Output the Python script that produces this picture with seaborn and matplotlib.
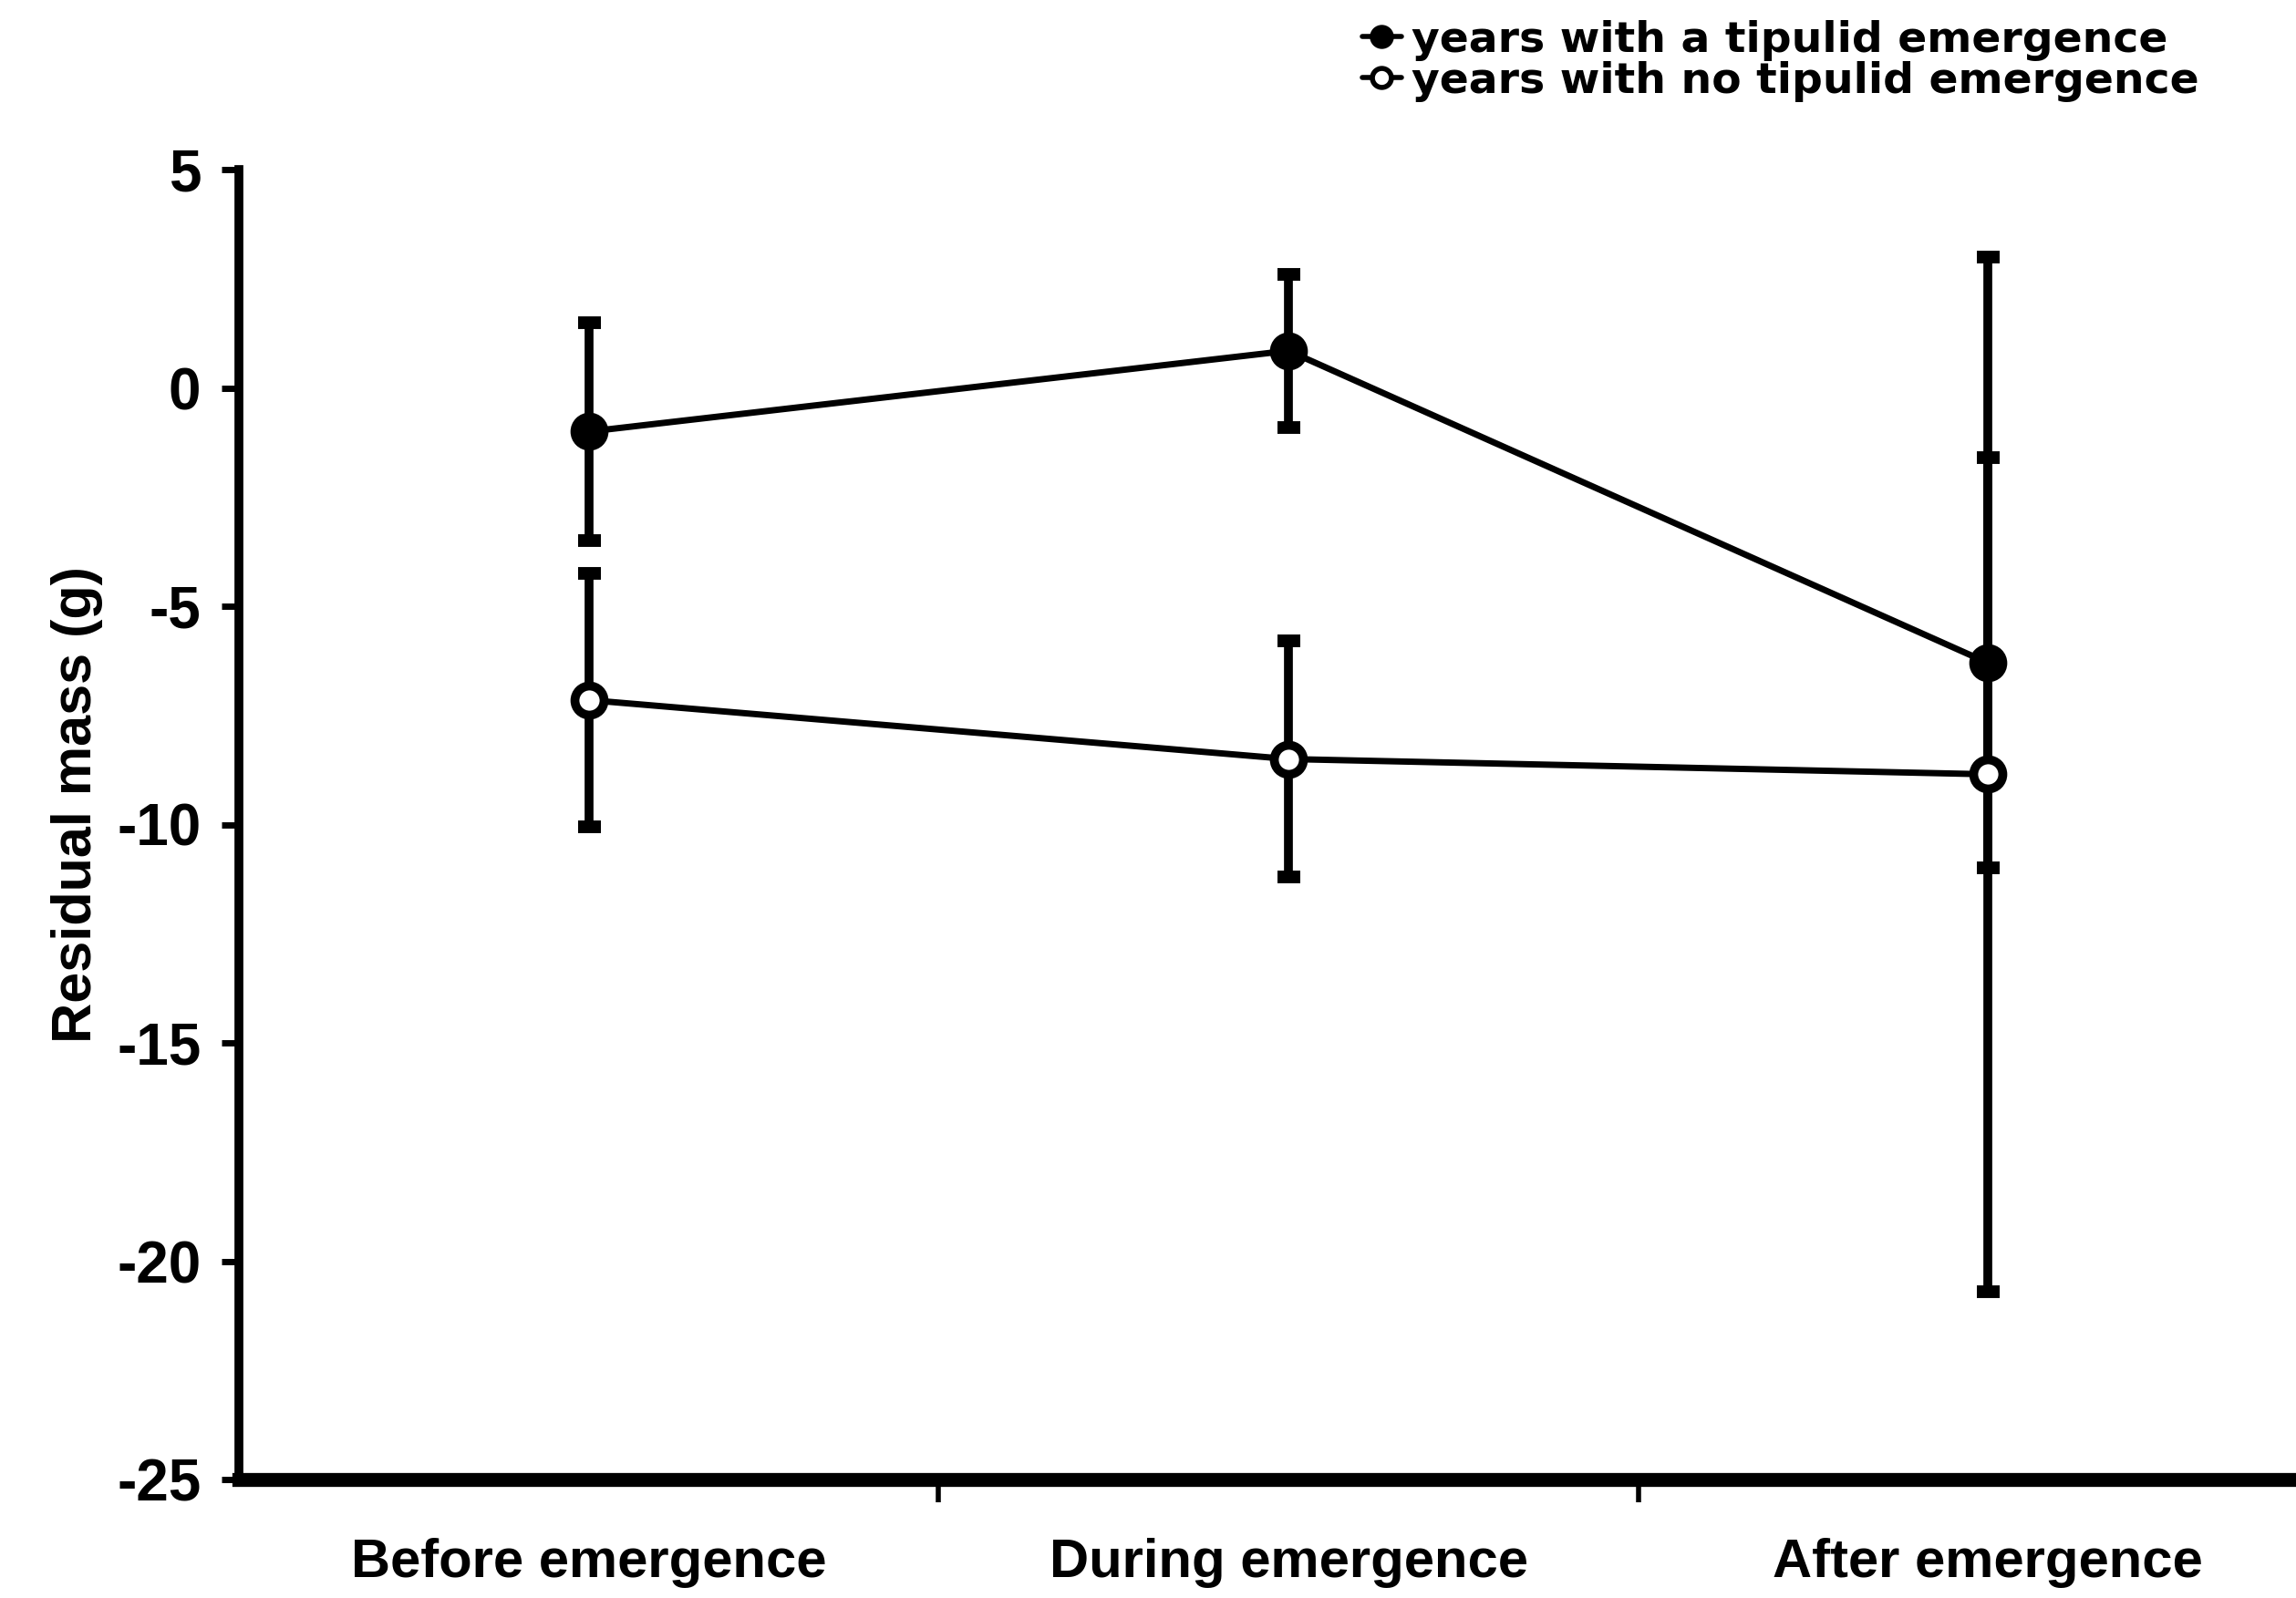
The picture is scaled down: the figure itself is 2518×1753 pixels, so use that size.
import numpy as np
import pandas as pd
import matplotlib
matplotlib.use("Agg")
import matplotlib.pyplot as plt
import seaborn as sns
from matplotlib.lines import Line2D

# ---- data ----
categories = ["Before emergence", "During emergence", "After emergence"]
series_names = ["years with a tipulid emergence", "years with no tipulid emergence"]
emergence_mean = [-1.0, 0.85, -6.3]
emergence_err = [2.5, 1.75, 4.7]
no_emergence_mean = [-7.15, -8.5, -8.85]
no_emergence_err = [2.9, 2.7, 11.85]
y_ticks = [-25, -20, -15, -10, -5, 0, 5]
y_tick_labels = ["-25", "-20", "-15", "-10", "-5", "0", "5"]

sns.set_theme(style="white")
plt.rcParams["font.family"] = ["Liberation Sans", "DejaVu Sans"]
plt.rcParams["font.weight"] = "bold"
plt.rcParams["axes.unicode_minus"] = False
plt.rcParams["text.color"] = "black"
plt.rcParams["axes.labelcolor"] = "black"
plt.rcParams["xtick.color"] = "black"
plt.rcParams["ytick.color"] = "black"

W, H = 2518, 1753
fig = plt.figure(figsize=(W / 100, H / 100), dpi=100)
left_px, top_px, bottom_px = 262, 186, 1623
ax = fig.add_axes([left_px / W, 1 - bottom_px / H, (W - left_px) / W, (bottom_px - top_px) / H])

pos = np.arange(len(categories))
df = pd.DataFrame({
    "pos": np.tile(pos, 2),
    "mean": emergence_mean + no_emergence_mean,
    "err": emergence_err + no_emergence_err,
    "series": np.repeat(series_names, len(categories)),
})

face_colors = {series_names[0]: "black", series_names[1]: "white"}

for name in series_names:
    sub = df[df["series"] == name]
    ax.errorbar(sub["pos"], sub["mean"], yerr=sub["err"], fmt="none",
                ecolor="black", elinewidth=7, capsize=9, capthick=10, zorder=2)

for name in series_names:
    sub = df[df["series"] == name]
    sns.lineplot(data=sub, x="pos", y="mean", ax=ax, color="black",
                 linewidth=5, marker="o", markersize=23,
                 markerfacecolor=face_colors[name], markeredgecolor="black",
                 markeredgewidth=7, errorbar=None, legend=False, zorder=3)

ax.set_xlim(-0.5, 2.44)
ax.set_ylim(-25, 5)

for s in ["top", "right"]:
    ax.spines[s].set_visible(False)
ax.spines["left"].set_linewidth(7)
ax.spines["bottom"].set_linewidth(11)
ax.spines["left"].set_color("black")
ax.spines["bottom"].set_color("black")

ax.set_yticks(y_ticks)
ax.set_yticklabels(y_tick_labels, fontsize=46, fontweight="bold")
ax.tick_params(axis="y", direction="out", length=14, width=5, pad=16, left=True)

ax.set_xticks(pos)
ax.set_xticklabels(categories, fontsize=43, fontweight="bold")
ax.tick_params(axis="x", which="major", length=0, pad=46)
ax.set_xticks(pos[:-1] + 0.5, minor=True)
ax.tick_params(axis="x", which="minor", direction="out", length=18, width=4, bottom=True)

ax.set_xlabel("")
ax.set_ylabel("Residual mass (g)", fontsize=44, fontweight="bold")
ax.yaxis.set_label_coords(-0.066, 0.515)

handles = [
    Line2D([0], [0], color="black", lw=4, marker="o", ms=15, mfc="black", mec="black", mew=4),
    Line2D([0], [0], color="black", lw=4, marker="o", ms=15, mfc="white", mec="black", mew=4),
]
fig.legend(handles, series_names, loc="upper left",
           bbox_to_anchor=(1494 / W, 1 - 22 / H), frameon=False,
           prop={"size": 34, "weight": "bold", "family": "DejaVu Sans"}, handlelength=0.9,
           handletextpad=0.25, labelspacing=0.0, borderpad=0, borderaxespad=0)

fig.savefig("out.png", dpi=100)
